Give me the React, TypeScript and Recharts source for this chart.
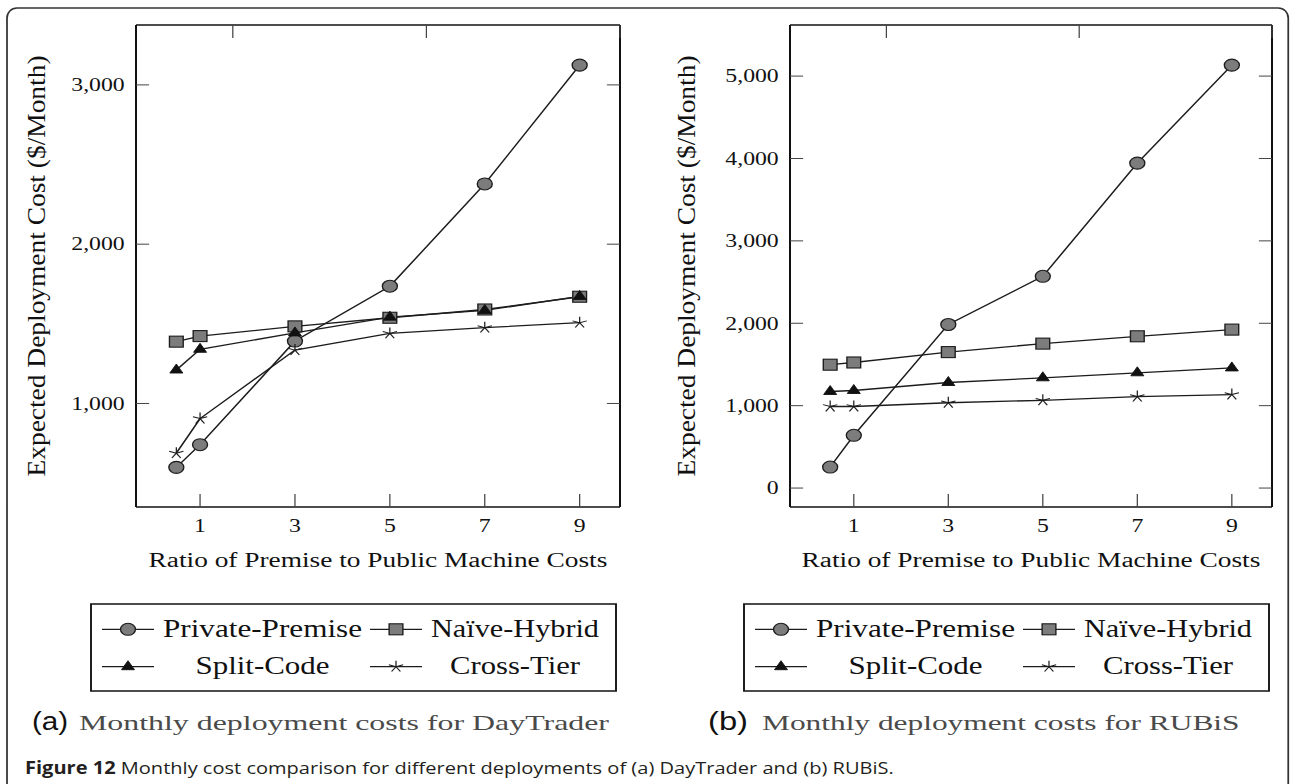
import React from 'react';
import { LineChart, Line, XAxis, YAxis } from 'recharts';

// premise / public machine cost ratio
const ratios = [0.5, 1, 3, 5, 7, 9];
const ratioTicks = [1, 3, 5, 7, 9];

// (a) DayTrader, $/month
const dayTraderPrivate = [599, 741, 1392, 1736, 2378, 3124];
const dayTraderNaive = [1388, 1423, 1484, 1538, 1590, 1670];
const dayTraderSplit = [1210, 1340, 1443, 1542, 1584, 1672];
const dayTraderCross = [688, 905, 1335, 1440, 1476, 1507];
const dayTraderTicks = [1000, 2000, 3000];

// (b) RUBiS, $/month
const rubisPrivate = [255, 640, 1985, 2570, 3943, 5133];
const rubisNaive = [1497, 1524, 1650, 1753, 1842, 1923];
const rubisSplit = [1172, 1184, 1281, 1338, 1399, 1458];
const rubisCross = [990, 990, 1035, 1065, 1110, 1135];
const rubisTicks = [0, 1000, 2000, 3000, 4000, 5000];

const seriesNames = ['Private-Premise', 'Naïve-Hybrid', 'Split-Code', 'Cross-Tier'];
const seriesKeys = ['private', 'naive', 'split', 'cross'];
const seriesMarkers = ['circle', 'square', 'triangle', 'star'];

const SERIF = '"Liberation Serif", "Times New Roman", serif';
const INK = '#1c1c1c';
const frameLine = { stroke: '#111', strokeWidth: 1.6 };

function buildRows(cols: number[][]) {
  return ratios.map((r, i) => {
    const row: any = { ratio: r };
    seriesKeys.forEach((k, j) => (row[k] = cols[j][i]));
    return row;
  });
}

const dayTraderRows = buildRows([dayTraderPrivate, dayTraderNaive, dayTraderSplit, dayTraderCross]);
const rubisRows = buildRows([rubisPrivate, rubisNaive, rubisSplit, rubisCross]);

function Marker({ kind, cx, cy }: { kind: string; cx: number; cy: number }) {
  if (cx == null || cy == null) return null;
  if (kind === 'circle') {
    return <circle cx={cx} cy={cy} r={6} fill="#7c7c7c" stroke={INK} strokeWidth={1.1} />;
  }
  if (kind === 'square') {
    return <rect x={cx - 5.5} y={cy - 5.5} width={11} height={11} fill="#7c7c7c" stroke={INK} strokeWidth={1.1} />;
  }
  if (kind === 'triangle') {
    const r = 6;
    return (
      <polygon
        points={`${cx},${cy - r} ${cx + r * 0.866},${cy + r / 2} ${cx - r * 0.866},${cy + r / 2}`}
        fill="#111"
        stroke="#111"
        strokeWidth={0.8}
      />
    );
  }
  const r = 6;
  return (
    <g stroke={INK} strokeWidth={1}>
      {[0, 1, 2, 3, 4].map((i) => {
        const a = ((-90 + i * 72) * Math.PI) / 180;
        return <line key={i} x1={cx} y1={cy} x2={cx + r * Math.cos(a)} y2={cy + r * Math.sin(a)} />;
      })}
    </g>
  );
}

function BottomTick(props: any) {
  const { x, y, payload } = props;
  return (
    <g>
      <line x1={x} y1={y} x2={x} y2={y - 13} stroke="#444" strokeWidth={1} />
      <text x={x} y={y + 25} textAnchor="middle" fontFamily={SERIF} fontSize={19} fill="#111">
        {payload.value}
      </text>
    </g>
  );
}

function TopTick(props: any) {
  const { x, y } = props;
  return <line x1={x} y1={y} x2={x} y2={y + 13} stroke="#444" strokeWidth={1} />;
}

function LeftTick(props: any) {
  const { x, y, payload } = props;
  return (
    <g>
      <line x1={x} y1={y} x2={x + 10.5} y2={y} stroke="#444" strokeWidth={1} />
      <text x={x - 9} y={y} dy="0.33em" textAnchor="end" fontFamily={SERIF} fontSize={19} fill="#111">
        {Number(payload.value).toLocaleString('en-US')}
      </text>
    </g>
  );
}

function RightTick(props: any) {
  const { x, y } = props;
  return <line x1={x} y1={y} x2={x - 10.5} y2={y} stroke="#444" strokeWidth={1} />;
}

function XTitle(props: any) {
  const vb = props.viewBox;
  if (!vb) return null;
  return (
    <text
      x={vb.x + vb.width / 2}
      y={vb.y + 60}
      textAnchor="middle"
      fontFamily={SERIF}
      fontSize={20}
      fill="#111"
      textLength={367}
      lengthAdjust="spacingAndGlyphs"
    >
      Ratio of Premise to Public Machine Costs
    </text>
  );
}

function YTitle(props: any) {
  const vb = props.viewBox;
  if (!vb) return null;
  const x = vb.x + vb.width - props.gap;
  const y = vb.y + vb.height / 2;
  return (
    <text
      x={x}
      y={y}
      transform={`rotate(-90 ${x} ${y})`}
      textAnchor="middle"
      fontFamily={SERIF}
      fontSize={20}
      fill="#111"
      textLength={421}
      lengthAdjust="spacingAndGlyphs"
    >
      Expected Deployment Cost ($/Month)
    </text>
  );
}

// axis boxes have a size; margins are reduced by the same amount
const AX_B = 40;
const AX_T = 10;
const AX_L = 40;
const AX_R = 10;

function CostChart({ left, rows, yDomain, yTicks, margin, titleGap }: any) {
  const m = {
    top: margin.top - AX_T,
    bottom: margin.bottom - AX_B,
    left: margin.left - AX_L,
    right: margin.right - AX_R,
  };
  return (
    <div style={{ position: 'absolute', left, top: 0 }}>
      <LineChart width={516} height={600} data={rows} margin={m}>
        <XAxis
          dataKey="ratio"
          type="number"
          domain={[-0.35, 9.85]}
          ticks={ratioTicks}
          interval={0}
          allowDataOverflow
          height={AX_B}
          tickSize={0}
          tickMargin={0}
          tickLine={false}
          axisLine={frameLine}
          tick={<BottomTick />}
          label={<XTitle />}
        />
        <XAxis
          xAxisId="top"
          orientation="top"
          type="number"
          domain={[-0.35, 9.85]}
          ticks={ratioTicks}
          interval={0}
          allowDataOverflow
          height={AX_T}
          tickSize={0}
          tickMargin={0}
          tickLine={false}
          axisLine={frameLine}
          tick={<TopTick />}
        />
        <YAxis
          type="number"
          domain={yDomain}
          ticks={yTicks}
          interval={0}
          allowDataOverflow
          width={AX_L}
          tickSize={0}
          tickMargin={0}
          tickLine={false}
          axisLine={frameLine}
          tick={<LeftTick />}
          label={<YTitle gap={titleGap} />}
        />
        <YAxis
          yAxisId="right"
          orientation="right"
          type="number"
          domain={yDomain}
          ticks={yTicks}
          interval={0}
          allowDataOverflow
          width={AX_R}
          tickSize={0}
          tickMargin={0}
          tickLine={false}
          axisLine={frameLine}
          tick={<RightTick />}
        />
        {seriesKeys.map((k, i) => (
          <Line
            key={k}
            dataKey={k}
            type="linear"
            stroke={INK}
            strokeWidth={1.3}
            isAnimationActive={false}
            activeDot={false}
            dot={(p: any) => <Marker key={`${k}-${p.index}`} kind={seriesMarkers[i]} cx={p.cx} cy={p.cy} />}
          />
        ))}
      </LineChart>
    </div>
  );
}

// legend text widths per entry (row 1: 0,1 / row 2: 2,3)
const legendTextWidths = [159.2, 134.4, 107.2, 104];

function LegendBox({ x }: { x: number }) {
  const y = 604;
  const colLine = [8.8, 223.2];
  const colText = [137.2, 339.2];
  const rowLine = [629.3, 666.7];
  const rowText = [637, 674];
  return (
    <g>
      <rect x={x} y={y} width={420} height={87} fill="#fff" stroke="#111" strokeWidth={1.5} />
      {seriesNames.map((name, i) => {
        const col = i % 2;
        const row = Math.floor(i / 2);
        const lx = x + colLine[col];
        const ly = rowLine[row];
        return (
          <g key={name}>
            <line x1={lx} y1={ly} x2={lx + 41.6} y2={ly} stroke={INK} strokeWidth={1.3} />
            <Marker kind={seriesMarkers[i]} cx={lx + 20.8} cy={ly} />
            <text
              x={x + colText[col]}
              y={rowText[row]}
              textAnchor="middle"
              fontFamily={SERIF}
              fontSize={25}
              fill="#111"
              textLength={legendTextWidths[i]}
              lengthAdjust="spacingAndGlyphs"
            >
              {name}
            </text>
          </g>
        );
      })}
    </g>
  );
}

export default function App() {
  return (
    <div
      style={{
        position: 'absolute',
        left: 0,
        top: 0,
        width: 1032,
        height: 784,
        overflow: 'hidden',
        transform: 'scaleX(1.25)',
        transformOrigin: '0 0',
        background: '#fff',
      }}
    >
      <svg width={1032} height={784} style={{ position: 'absolute', left: 0, top: 0 }}>
        <rect x={5.6} y={8} width={1025} height={830} rx={8} ry={10} fill="none" stroke="#333" strokeWidth={1.4} />
        <LegendBox x={72.8} />
        <LegendBox x={595.2} />
        <text x={25.6} y={730} fontFamily='"Liberation Sans", Arial, sans-serif' fontSize={26} fill="#111"
          textLength={29} lengthAdjust="spacingAndGlyphs">(a)</text>
        <text x={63.2} y={730} fontFamily={SERIF} fontSize={22} fill="#4a4a4a"
          textLength={424} lengthAdjust="spacingAndGlyphs">Monthly deployment costs for DayTrader</text>
        <text x={566.4} y={730} fontFamily='"Liberation Sans", Arial, sans-serif' fontSize={26} fill="#111"
          textLength={32} lengthAdjust="spacingAndGlyphs">(b)</text>
        <text x={609.6} y={730} fontFamily={SERIF} fontSize={22} fill="#4a4a4a"
          textLength={382} lengthAdjust="spacingAndGlyphs">Monthly deployment costs for RUBiS</text>
        <text x={20} y={774} fontFamily='"Open Sans", "Noto Sans", sans-serif' fontSize={17} fill="#231f20"
          textLength={695} lengthAdjust="spacingAndGlyphs">
          <tspan fontWeight="bold">Figure 12</tspan>
          <tspan> Monthly cost comparison for different deployments of (a) DayTrader and (b) RUBiS.</tspan>
        </text>
      </svg>
      <CostChart
        left={0}
        rows={dayTraderRows}
        yDomain={[350, 3376]}
        yTicks={dayTraderTicks}
        margin={{ top: 25, bottom: 93, left: 108.8, right: 20 }}
        titleGap={73}
      />
      <CostChart
        left={516}
        rows={rubisRows}
        yDomain={[-230, 5620]}
        yTicks={rubisTicks}
        margin={{ top: 25, bottom: 93, left: 116, right: 14.4 }}
        titleGap={76}
      />
    </div>
  );
}
